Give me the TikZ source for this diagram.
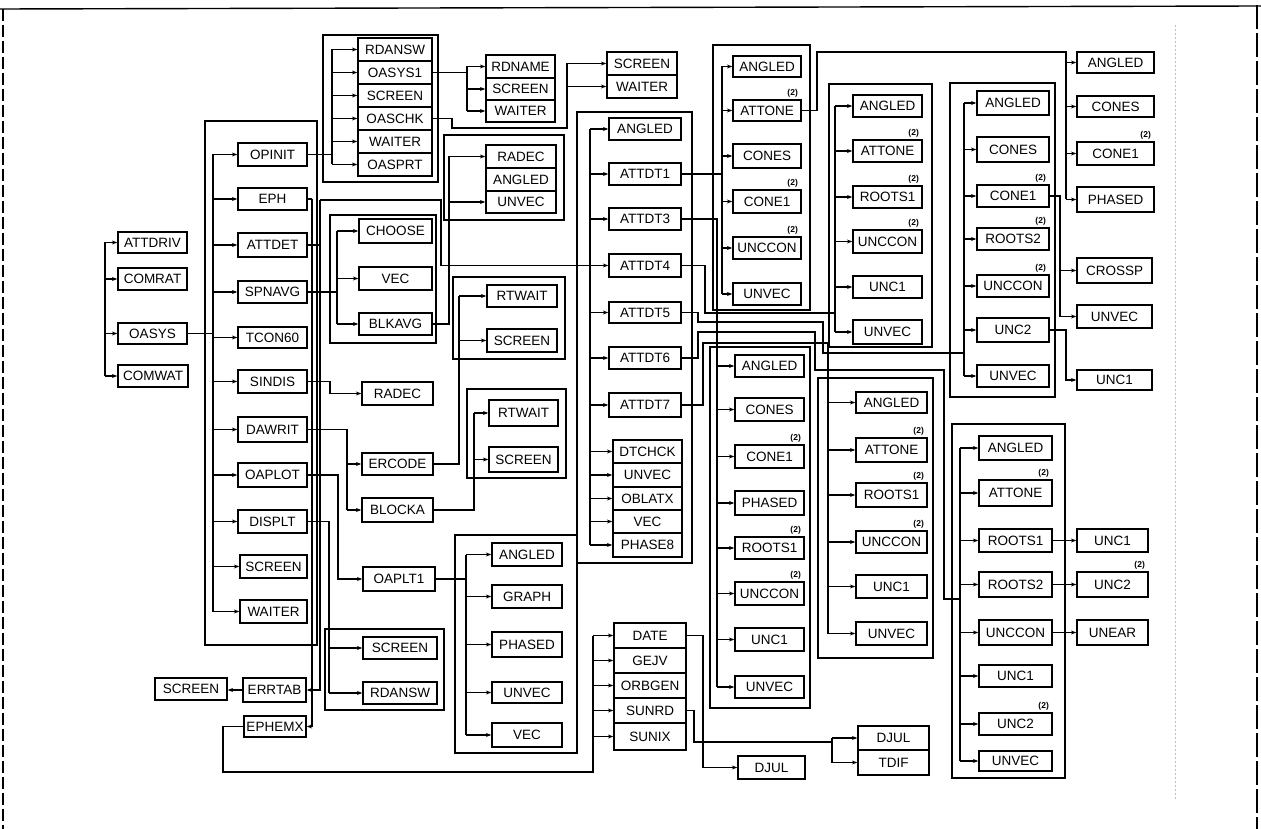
\documentclass[tikz,border=0pt]{standalone}
\usepackage{fontspec}
\setmainfont{Liberation Sans}
\usetikzlibrary{arrows.meta}
\newcommand{\mybox}[6]{\node[bx,minimum width={(#4)-(#2)},minimum height={(#5)-(#3)}] (#1) at ({((#2)+(#4))/2},{((#3)+(#5))/2}) {#6};}
\newcommand{\fan}[2]{\foreach \c in {#2} {\path (\c.west) coordinate (tmpc); \draw[arr] (#1 |- tmpc) -- (tmpc);}}
\newcommand{\two}[2]{\node[sup] (#1) at ([xshift=-9pt,yshift=6pt]#2.north east) {(2)};}
\begin{document}
\begin{tikzpicture}[x=1pt,y=-1pt,line width=1.3pt,
 bx/.style={draw,line width=1.3pt,inner sep=0pt,font=\fontsize{13.5}{14}\selectfont},
 arr/.style={-{Stealth[length=5.5pt,width=4pt]}},
 sup/.style={font=\fontsize{8.5}{9}\selectfont\bfseries,inner sep=0pt}]
\useasboundingbox (0,0) rectangle (1261,829);
% border
\draw[line width=1.4pt] (0,9) -- (1261,6);
\draw[line width=1.2pt,dash pattern=on 12pt off 4pt] (3,9) -- (3,829);
\draw[line width=2.2pt,dash pattern=on 24pt off 4pt] (1257,5) -- (1257,829);
\draw[gray!50,line width=0.6pt,dash pattern=on 2pt off 2pt] (1175,25) -- (1175,800);
% left group
\mybox{attdriv}{118}{232}{187}{253}{ATTDRIV}
\mybox{comrat}{118}{268}{187}{290}{COMRAT}
\mybox{oasys}{118}{323}{187}{344}{OASYS}
\mybox{comwat}{118}{365}{188}{387}{COMWAT}
\coordinate (bL) at (105,0);
\draw (bL |- attdriv.west) -- (bL |- comwat.west);
\fan{bL}{attdriv,comrat,oasys,comwat}
% big container
\draw (205,121) rectangle (317,645);
\mybox{opinit}{238}{143}{307}{166}{OPINIT}
\mybox{eph}{238}{188}{307}{210}{EPH}
\mybox{attdet}{238}{233}{307}{257}{ATTDET}
\mybox{spnavg}{238}{281}{307}{303}{SPNAVG}
\mybox{tcon60}{238}{327}{307}{348}{TCON60}
\mybox{sindis}{238}{370}{307}{393}{SINDIS}
\mybox{dawrit}{238}{417}{307}{442}{DAWRIT}
\mybox{oaplot}{238}{463}{307}{487}{OAPLOT}
\mybox{displt}{238}{510}{307}{533}{DISPLT}
\mybox{screen1}{240}{555}{307}{578}{SCREEN}
\mybox{waiter1}{240}{600}{307}{623}{WAITER}
\coordinate (bA) at (213,0);
\draw (bA |- opinit.west) -- (bA |- waiter1.west);
\draw (oasys.east) -- (oasys.east -| bA);
\fan{bA}{opinit,eph,attdet,spnavg,tcon60,sindis,dawrit,oaplot,displt,screen1,waiter1}
% RDANSW container
\draw (323,35) rectangle (438,182);
\mybox{rdansw2}{358}{38}{432}{61}{RDANSW}
\mybox{oasys1}{358}{61}{432}{84}{OASYS1}
\mybox{screen2}{358}{84}{432}{107}{SCREEN}
\mybox{oaschk}{358}{107}{432}{130}{OASCHK}
\mybox{waiter2}{358}{130}{432}{153}{WAITER}
\mybox{oasprt}{358}{153}{432}{176}{OASPRT}
\coordinate (bB) at (332,0);
\draw (bB |- rdansw2.west) -- (bB |- oasprt.west);
\draw (opinit.east) -- (opinit.east -| bB);
\fan{bB}{rdansw2,oasys1,screen2,oaschk,waiter2,oasprt}
% RDNAME stack
\mybox{rdname}{486}{55}{555}{78}{RDNAME}
\mybox{screen3}{486}{78}{555}{100}{SCREEN}
\mybox{waiter3}{486}{100}{555}{122}{WAITER}
\coordinate (bC) at (467,0);
\draw (oasys1.east) -- (oasys1.east -| bC);
\draw (bC |- rdname.west) -- (bC |- waiter3.west);
\fan{bC}{rdname,screen3,waiter3}
% SCREEN/WAITER
\mybox{screen4}{607}{52}{677}{75}{SCREEN}
\mybox{waiter4}{607}{75}{677}{98}{WAITER}
\coordinate (kA) at (452,128); \coordinate (bD) at (567,0);
\draw (oaschk.east) -| (kA) -- (kA -| bD) -- (bD |- screen4.west);
\fan{bD}{screen4,waiter4}
% RADEC container
\draw (444,135) rectangle (564,220);
\mybox{radec1}{486}{145}{556}{168}{RADEC}
\mybox{angled1}{486}{168}{556}{191}{ANGLED}
\mybox{unvec1}{486}{191}{556}{213}{UNVEC}
% CHOOSE container
\draw (330,215) rectangle (436,343);
\mybox{choose}{359}{219}{432}{243}{CHOOSE}
\mybox{vec1}{359}{267}{432}{290}{VEC}
\mybox{blkavg}{359}{313}{432}{335}{BLKAVG}
\coordinate (bF) at (337,0);
\draw (spnavg.east) -- (spnavg.east -| bF);
\draw (bF |- choose.west) -- (bF |- blkavg.west);
\fan{bF}{choose,vec1,blkavg}
\coordinate (bE) at (449,0);
\draw (blkavg.east) -- (blkavg.east -| bE) -- (bE |- radec1.west);
\fan{bE}{radec1,unvec1}
% SINDIS
\mybox{radec2}{362}{382}{433}{405}{RADEC}
\coordinate (kE) at (330,0);
\draw[arr] (sindis.east) -- (sindis.east -| kE) |- (radec2.west);
% DAWRIT
\mybox{ercode}{362}{453}{433}{475}{ERCODE}
\mybox{blocka}{362}{498}{433}{522}{BLOCKA}
\coordinate (bH) at (347,0);
\draw (dawrit.east) -- (dawrit.east -| bH) -- (bH |- blocka.west);
\fan{bH}{ercode,blocka}
% RTWAIT containers
\draw (453,277) rectangle (565,359);
\mybox{rtwait1}{487}{285}{557}{307}{RTWAIT}
\mybox{screen5}{487}{329}{557}{352}{SCREEN}
\coordinate (bI) at (459,0);
\draw (ercode.east) -- (ercode.east -| bI) -- (bI |- rtwait1.west);
\fan{bI}{rtwait1,screen5}
\draw (467,389) rectangle (566,478);
\mybox{rtwait2}{489}{400}{558}{426}{RTWAIT}
\mybox{screen6}{489}{447}{558}{472}{SCREEN}
\coordinate (bJ) at (474,0);
\draw (blocka.east) -- (blocka.east -| bJ) -- (bJ |- rtwait2.west);
\fan{bJ}{rtwait2,screen6}
% OAPLOT
\mybox{oaplt1}{363}{567}{435}{591}{OAPLT1}
\coordinate (kF) at (338,0);
\draw[arr] (oaplot.east) -- (oaplot.east -| kF) |- (oaplt1.west);
\draw (455,535) rectangle (577,753);
\mybox{angled2}{492}{543}{562}{566}{ANGLED}
\mybox{graph}{492}{585}{562}{608}{GRAPH}
\mybox{phased1}{492}{632}{562}{657}{PHASED}
\mybox{unvec2}{492}{682}{562}{703}{UNVEC}
\mybox{vec2}{492}{723}{562}{747}{VEC}
\coordinate (bK) at (466,0);
\draw (oaplt1.east) -- (oaplt1.east -| bK);
\draw (bK |- angled2.west) -- (bK |- vec2.west);
\fan{bK}{angled2,graph,phased1,unvec2,vec2}
% DISPLT
\draw (325,629) rectangle (444,710);
\mybox{screen7}{363}{637}{437}{659}{SCREEN}
\mybox{rdansw3}{363}{682}{437}{704}{RDANSW}
\coordinate (bX) at (329,0);
\draw (displt.east) -- (displt.east -| bX) -- (bX |- rdansw3.west);
\fan{bX}{screen7,rdansw3}
% ERRTAB, EPHEMX
\mybox{errtab}{243}{678}{306}{702}{ERRTAB}
\mybox{screen8}{155}{678}{227}{700}{SCREEN}
\mybox{ephemx}{244}{716}{306}{737}{EPHEMX}
\draw[arr] (errtab.west) -- (errtab.west -| screen8.east);
\coordinate (kD) at (312,0);
\draw (eph.east) -- (eph.east -| kD);
\draw[arr] (eph.east -| kD) -- (kD |- ephemx.east) -- (ephemx.east);
% DATE stack
\mybox{date}{614}{623}{686}{648}{DATE}
\mybox{getjv}{614}{648}{686}{673}{GEJV}
\mybox{orbgen}{614}{673}{686}{698}{ORBGEN}
\mybox{sunrd}{614}{698}{686}{723}{SUNRD}
\mybox{sunix}{614}{723}{686}{750}{SUNIX}
\coordinate (kG) at (223,772); \coordinate (bM) at (593,0);
\draw (ephemx.west) -| (kG) -- (kG -| bM) -- (bM |- date.west);
\fan{bM}{date,getjv,orbgen,sunrd,sunix}
\mybox{djul1}{738}{756}{805}{779}{DJUL}
\coordinate (kH) at (703,0);
\draw[arr] (date.east) -- (date.east -| kH) |- (djul1.west);
\mybox{djul2}{858}{726}{929}{750}{DJUL}
\mybox{tdif}{858}{750}{929}{775}{TDIF}
\coordinate (kI) at (694,742); \coordinate (bN) at (832,0);
\draw (sunrd.east) -| (kI) -- (kI -| bN);
\draw (bN |- djul2.west) -- (bN |- tdif.west);
\fan{bN}{djul2,tdif}
% ATTDT container
\draw (577,112) rectangle (692,563);
\mybox{angled3}{609}{118}{681}{140}{ANGLED}
\mybox{attdt1}{609}{163}{681}{185}{ATTDT1}
\mybox{attdt3}{609}{208}{681}{230}{ATTDT3}
\mybox{attdt4}{609}{254}{681}{277}{ATTDT4}
\mybox{attdt5}{609}{302}{681}{323}{ATTDT5}
\mybox{attdt6}{609}{347}{681}{369}{ATTDT6}
\mybox{attdt7}{609}{393}{681}{417}{ATTDT7}
\mybox{dtchck}{613}{440}{682}{463}{DTCHCK}
\mybox{unvec3}{613}{463}{682}{487}{UNVEC}
\mybox{oblatx}{613}{487}{682}{510}{OBLATX}
\mybox{vec3}{613}{510}{682}{533}{VEC}
\mybox{phase8}{613}{533}{682}{557}{PHASE8}
\coordinate (kB) at (320,200); \coordinate (kC) at (441,200); \coordinate (bG) at (590,0);
\draw (bG |- angled3.west) -- (bG |- phase8.west);
\fan{bG}{angled3,attdt1,attdt3,attdt4,attdt5,attdt6,attdt7,dtchck,unvec3,oblatx,vec3,phase8}
\draw (attdet.east) -- (attdet.east -| kB);
\draw (kB) -- (kC) -- (kC |- attdt4.west) -- (bG |- attdt4.west);
\draw[arr] (kB) -- (kB |- errtab.east) -- (errtab.east);
% C1
\draw (713,45) rectangle (810,310);
\mybox{angled4}{733}{56}{801}{77}{ANGLED}
\mybox{attone1}{733}{100}{801}{121}{ATTONE}
\mybox{cones1}{733}{144}{801}{168}{CONES}
\mybox{cone1a}{733}{190}{801}{213}{CONE1}
\mybox{unccon1}{733}{237}{801}{259}{UNCCON}
\mybox{unvec4}{733}{283}{801}{305}{UNVEC}
\coordinate (bO) at (722,0);
\draw (attdt1.east) -- (attdt1.east -| bO);
\draw (bO |- angled4.west) -- (bO |- unvec4.west);
\fan{bO}{angled4,attone1,cones1,cone1a,unccon1,unvec4}
\two{s1}{attone1}\two{s2}{cone1a}\two{s3}{unccon1}
% C4
\draw (710,347) rectangle (810,708);
\mybox{angled5}{735}{355}{804}{377}{ANGLED}
\mybox{cones2}{735}{398}{804}{421}{CONES}
\mybox{cone1b}{735}{445}{804}{468}{CONE1}
\mybox{phased2}{735}{491}{804}{515}{PHASED}
\mybox{roots1a}{735}{537}{804}{559}{ROOTS1}
\mybox{unccon2}{735}{582}{804}{605}{UNCCON}
\mybox{unc1a}{735}{628}{804}{651}{UNC1}
\mybox{unvec5}{735}{676}{804}{698}{UNVEC}
\coordinate (bP) at (717,0);
\draw (attdt3.east) -- (attdt3.east -| bP) -- (bP |- unvec5.west);
\fan{bP}{angled5,cones2,cone1b,phased2,roots1a,unccon2,unc1a,unvec5}
\two{s4}{cone1b}\two{s5}{roots1a}\two{s6}{unccon2}
% C2
\draw (829,84) rectangle (932,347);
\mybox{angled6}{853}{95}{922}{117}{ANGLED}
\mybox{attone2}{853}{140}{922}{162}{ATTONE}
\mybox{roots1b}{853}{186}{922}{208}{ROOTS1}
\mybox{unccon3}{853}{230}{922}{253}{UNCCON}
\mybox{unc1b}{853}{276}{922}{298}{UNC1}
\mybox{unvec6}{853}{320}{922}{344}{UNVEC}
\coordinate (bQ) at (835,0); \coordinate (kJ) at (705,313);
\draw (attdt4.east) -| (kJ) -- (kJ -| bQ);
\draw (bQ |- angled6.west) -- (bQ |- unvec6.west);
\fan{bQ}{angled6,attone2,roots1b,unccon3,unc1b,unvec6}
\two{s7}{attone2}\two{s8}{roots1b}\two{s9}{unccon3}
% C3
\draw (950,83) rectangle (1055,397);
\mybox{angled7}{977}{91}{1049}{115}{ANGLED}
\mybox{cones3}{977}{137}{1049}{162}{CONES}
\mybox{cone1c}{977}{185}{1049}{207}{CONE1}
\mybox{roots2a}{977}{228}{1049}{250}{ROOTS2}
\mybox{unccon4}{977}{275}{1049}{297}{UNCCON}
\mybox{unc2a}{977}{318}{1049}{342}{UNC2}
\mybox{unvec7}{977}{365}{1049}{387}{UNVEC}
\coordinate (bR) at (964,0); \coordinate (kK) at (698,322); \coordinate (kL) at (823,353);
\draw (attdt5.east) -| (kK) -- (kK -| kL) -- (kL) -- (kL -| bR);
\draw (bR |- angled7.west) -- (bR |- unvec7.west);
\fan{bR}{angled7,cones3,cone1c,roots2a,unccon4,unc2a,unvec7}
\two{s10}{cone1c}\two{s11}{roots2a}\two{s12}{unccon4}
% C4b
\draw (818,378) rectangle (933,658);
\mybox{angled8}{856}{392}{927}{413}{ANGLED}
\mybox{attone3}{856}{438}{927}{462}{ATTONE}
\mybox{roots1c}{856}{483}{927}{507}{ROOTS1}
\mybox{unccon5}{856}{531}{927}{553}{UNCCON}
\mybox{unc1c}{856}{575}{927}{598}{UNC1}
\mybox{unvec8}{856}{622}{927}{645}{UNVEC}
\coordinate (bS) at (828,0); \coordinate (kM) at (703,343);
\draw (attdt7.east) -| (kM) -- (kM -| bS) -- (bS |- unvec8.west);
\fan{bS}{angled8,attone3,roots1c,unccon5,unc1c,unvec8}
\two{s13}{attone3}\two{s14}{roots1c}\two{s15}{unccon5}
% C5
\draw (952,424) rectangle (1065,778);
\mybox{angled9}{979}{436}{1052}{460}{ANGLED}
\mybox{attone4}{979}{480}{1052}{506}{ATTONE}
\mybox{roots1d}{979}{529}{1052}{552}{ROOTS1}
\mybox{roots2b}{979}{572}{1052}{597}{ROOTS2}
\mybox{unccon6}{979}{620}{1052}{645}{UNCCON}
\mybox{unc1d}{979}{665}{1052}{687}{UNC1}
\mybox{unc2b}{979}{713}{1052}{735}{UNC2}
\mybox{unvec9}{979}{751}{1052}{771}{UNVEC}
\coordinate (bT) at (960,0); \coordinate (kN) at (698,332); \coordinate (kO) at (815,370); \coordinate (kP) at (944,599);
\draw (attdt6.east) -| (kN) -- (kN -| kO) -- (kO) -- (kO -| kP) -- (kP) -- (kP -| bT);
\draw (bT |- angled9.west) -- (bT |- unvec9.west);
\fan{bT}{angled9,attone4,roots1d,roots2b,unccon6,unc1d,unc2b,unvec9}
\two{s16}{attone4}\two{s17}{unc2b}
% right column
\mybox{angled10}{1077}{52}{1154}{73}{ANGLED}
\mybox{cones4}{1077}{96}{1154}{117}{CONES}
\mybox{cone1d}{1077}{142}{1154}{165}{CONE1}
\mybox{phased3}{1077}{187}{1154}{212}{PHASED}
\coordinate (kQ) at (817,52); \coordinate (bU) at (1066,0);
\draw (attone1.east) -| (kQ) -- (kQ -| bU) -- (bU |- phased3.west);
\fan{bU}{angled10,cones4,cone1d,phased3}
\two{s18}{cone1d}
\mybox{crossp}{1077}{258}{1152}{283}{CROSSP}
\mybox{unvec10}{1077}{305}{1152}{328}{UNVEC}
\coordinate (bV) at (1060,0);
\draw (cone1c.east) -- (cone1c.east -| bV) -- (bV |- unvec10.west);
\fan{bV}{crossp,unvec10}
\mybox{unc1e}{1077}{370}{1152}{390}{UNC1}
\coordinate (kR) at (1066,0);
\draw[arr] (unc2a.east) -| (kR |- unc1e.west) -- (unc1e.west);
\mybox{unc1f}{1077}{529}{1148}{552}{UNC1}
\mybox{unc2c}{1077}{572}{1148}{597}{UNC2}
\mybox{unear}{1077}{620}{1148}{645}{UNEAR}
\draw[arr] (roots1d.east) -- (unc1f.west);
\draw[arr] (roots2b.east) -- (unc2c.west);
\draw[arr] (unccon6.east) -- (unear.west);
\two{s19}{unc2c}
\end{tikzpicture}
\end{document}
